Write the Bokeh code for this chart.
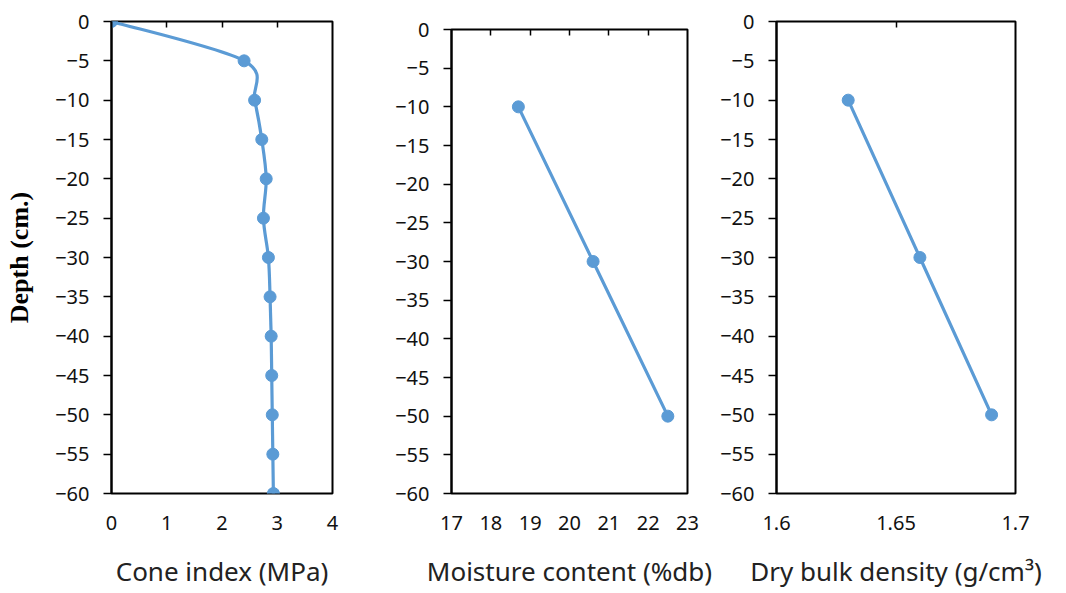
from bokeh.plotting import figure
from bokeh.layouts import row, column
from bokeh.models import FixedTicker, LinearAxis, Range1d, ColumnDataSource
from bokeh.embed import file_html
from bokeh.resources import INLINE

# ---------------- data ----------------
depth_ci = [0, -5, -10, -15, -20, -25, -30, -35, -40, -45, -50, -55, -60]
cone_index = [0.0, 2.40, 2.59, 2.72, 2.80, 2.75, 2.84, 2.87, 2.89, 2.90, 2.91, 2.92, 2.93]

depth_mc = [-10, -30, -50]
moisture = [18.7, 20.6, 22.5]

depth_bd = [-10, -30, -50]
bulk_density = [1.63, 1.66, 1.69]

depth_ticks = [0, -5, -10, -15, -20, -25, -30, -35, -40, -45, -50, -55, -60]
ci_ticks = [0, 1, 2, 3, 4]
mc_ticks = [17, 18, 19, 20, 21, 22, 23]
bd_ticks = [1.6, 1.65, 1.7]
bd_tick_labels = ["1.6", "1.65", "1.7"]

x_titles = ["Cone index (MPa)", "Moisture content (%db)", "Dry bulk density (g/cm\u00b3)"]
y_title = "Depth (cm.)"

BLUE = "#5B9BD5"
FONT = "Noto Sans"
TICK_SIZE = "20px"
TITLE_SIZE = "26px"


def smooth_bezier(xs, ys):
    """Excel-like smoothed line: Catmull-Rom converted to cubic Bezier segments."""
    n = len(xs)
    out = dict(x0=[], y0=[], x1=[], y1=[], cx0=[], cy0=[], cx1=[], cy1=[])
    for i in range(n - 1):
        xm, ym = (xs[i - 1], ys[i - 1]) if i > 0 else (xs[i], ys[i])
        xp, yp = (xs[i + 2], ys[i + 2]) if i + 2 < n else (xs[i + 1], ys[i + 1])
        out["x0"].append(xs[i]); out["y0"].append(ys[i])
        out["x1"].append(xs[i + 1]); out["y1"].append(ys[i + 1])
        out["cx0"].append(xs[i] + (xs[i + 1] - xm) / 6.0)
        out["cy0"].append(ys[i] + (ys[i + 1] - ym) / 6.0)
        out["cx1"].append(xs[i + 1] - (xp - xs[i]) / 6.0)
        out["cy1"].append(ys[i + 1] - (yp - ys[i]) / 6.0)
    return out


def make_fig(xr, xticks, top_ticks, title, bl, br, bt, fw, fh, ytitle=None):
    p = figure(x_range=Range1d(*xr), y_range=Range1d(-60, 0),
               frame_width=fw, frame_height=fh,
               min_border_left=bl, min_border_right=br,
               min_border_top=bt, min_border_bottom=593 - bt - fh,
               output_backend="svg", toolbar_location=None,
               background_fill_color="white", border_fill_color="white")
    p.xgrid.visible = False
    p.ygrid.visible = False
    p.outline_line_color = "black"
    p.outline_line_width = 2
    p.outline_line_alpha = 1.0

    # y axis
    ya = p.yaxis[0]
    ya.ticker = FixedTicker(ticks=depth_ticks)
    ya.major_tick_out = 8
    ya.major_tick_in = 0
    ya.minor_tick_out = 0
    ya.minor_tick_in = 0
    ya.axis_line_color = "black"
    ya.axis_line_width = 2
    ya.major_tick_line_color = "black"
    ya.major_tick_line_width = 1.5
    ya.major_label_text_font = FONT
    ya.major_label_text_font_size = TICK_SIZE
    ya.major_label_text_color = "#111111"
    ya.major_label_standoff = 14
    if ytitle:
        ya.axis_label = ytitle
        ya.axis_label_text_font = "Liberation Serif"
        ya.axis_label_text_font_style = "bold"
        ya.axis_label_text_font_size = "26px"
        ya.axis_label_text_color = "black"
        ya.axis_label_standoff = 18

    # bottom axis: labels only
    xa = p.xaxis[0]
    xa.ticker = FixedTicker(ticks=xticks)
    xa.major_tick_out = 0
    xa.major_tick_in = 0
    xa.minor_tick_out = 0
    xa.minor_tick_in = 0
    xa.axis_line_color = None
    xa.major_label_text_font = FONT
    xa.major_label_text_font_size = TICK_SIZE
    xa.major_label_text_color = "#111111"
    xa.major_label_standoff = 22
    xa.axis_label = title
    xa.axis_label_text_font = FONT
    xa.axis_label_text_font_style = "normal"
    xa.axis_label_text_font_size = TITLE_SIZE
    xa.axis_label_text_color = "#222222"
    xa.axis_label_standoff = 20

    # top axis: inward ticks only, blank labels
    ta = LinearAxis(ticker=FixedTicker(ticks=top_ticks))
    ta.major_tick_in = 6
    ta.major_tick_out = 0
    ta.minor_tick_in = 0
    ta.minor_tick_out = 0
    ta.axis_line_color = None
    ta.major_tick_line_color = "black"
    ta.major_tick_line_width = 1.5
    ta.major_label_overrides = {t: "" for t in top_ticks}
    ta.major_label_text_font_size = "1px"
    ta.major_label_standoff = 0
    p.add_layout(ta, "above")
    return p


# Panel 1: cone index
p1 = make_fig((0, 4), ci_ticks, ci_ticks[1:-1], x_titles[0],
              bl=111, br=28, bt=21, fw=221, fh=472, ytitle=y_title)
bez = ColumnDataSource(smooth_bezier(cone_index, depth_ci))
p1.bezier(x0="x0", y0="y0", x1="x1", y1="y1", cx0="cx0", cy0="cy0",
          cx1="cx1", cy1="cy1", source=bez, line_color=BLUE, line_width=3.2)
p1.scatter(cone_index, depth_ci, size=12, fill_color=BLUE, line_color=BLUE)

# Panel 2: moisture content
p2 = make_fig((17, 23), mc_ticks, mc_ticks[1:-1], x_titles[1],
              bl=91, br=30, bt=29, fw=236, fh=464)
p2.line(moisture, depth_mc, line_color=BLUE, line_width=3.2)
p2.scatter(moisture, depth_mc, size=12, fill_color=BLUE, line_color=BLUE)

# Panel 3: dry bulk density
p3 = make_fig((1.6, 1.7), bd_ticks, [bd_ticks[1]], x_titles[2],
              bl=56, br=54, bt=21, fw=239, fh=472)
p3.xaxis[0].major_label_overrides = {t: s for t, s in zip(bd_ticks, bd_tick_labels)}
p3.line(bulk_density, depth_bd, line_color=BLUE, line_width=3.2)
p3.scatter(bulk_density, depth_bd, size=12, fill_color=BLUE, line_color=BLUE)

layout = row(column(p1), column(p2), column(p3), spacing=0)
open("out.html", "w").write(file_html(layout, INLINE))
